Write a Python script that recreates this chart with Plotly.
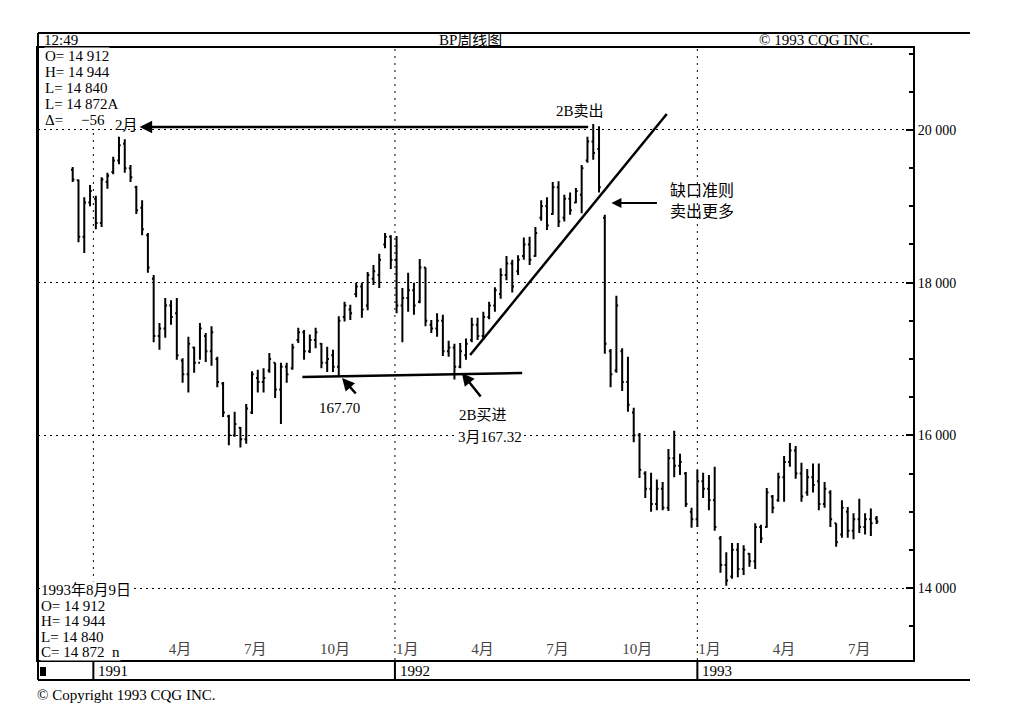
import plotly.graph_objects as go
import pandas as pd

# ---------------- data (weekly BP bars) ----------------
first_week = "1990-12-07"
high = [19515, 19350, 19120, 19280, 19140, 19380, 19440, 19650, 19910, 19880,
        19540, 19270, 19080, 18650, 18100, 17470, 17800, 17770, 17800, 17010,
        17290, 17160, 17470, 17340, 17430, 17030, 16700, 16270, 16310, 16110,
        16410, 16840, 16860, 16880, 17080, 16950, 16950, 16950, 17200, 17410,
        17380, 17320, 17410, 17210, 17160, 17120, 17560, 17750, 17710, 18000,
        18000, 18140, 18230, 18380, 18650, 18620, 18610, 17930, 18130, 18000,
        18310, 18200, 17510, 17600, 17580, 17240, 17200, 17210, 17270, 17540,
        17540, 17620, 17750, 17940, 18190, 18350, 18300, 18360, 18590, 18600,
        18730, 19080, 19120, 19320, 19330, 19150, 19180, 19240, 19540, 19910,
        20080, 20050, 18890, 17130, 17830, 17140, 17030, 16360, 16030, 15530,
        15510, 15420, 15390, 15820, 16060, 15760, 15520, 15050, 15550, 15510,
        15480, 15590, 14680, 14470, 14590, 14590, 14560, 14460, 14850, 14830,
        15310, 15220, 15510, 15730, 15900, 15860, 15640, 15560, 15630, 15630,
        15390, 15280, 14850, 15150, 15060, 14980, 15170, 14980, 15040, 14944]
low = [19320, 18530, 18390, 19000, 18700, 18730, 19230, 19420, 19550, 19440,
       19320, 18900, 18620, 18130, 17220, 17120, 17280, 17450, 16990, 16690,
       16560, 16820, 16990, 16960, 16910, 16630, 16240, 15870, 15980, 15840,
       15890, 16280, 16560, 16560, 16820, 16490, 16150, 16690, 16860, 17210,
       16990, 17080, 17140, 16880, 16830, 16830, 16770, 17490, 17510, 17810,
       17540, 17640, 17970, 17930, 18450, 18180, 17600, 17220, 17620, 17580,
       17730, 17430, 17340, 17290, 17040, 17030, 16732, 16880, 16990, 17220,
       17250, 17250, 17520, 17620, 17790, 18030, 17870, 18100, 18300, 18230,
       18340, 18810, 18690, 18890, 18730, 18800, 18890, 19040, 18910, 19570,
       19610, 19180, 17070, 16630, 16820, 16580, 16310, 15910, 15440, 15180,
       15000, 15020, 15020, 15010, 15450, 15480, 15060, 14790, 14800, 15180,
       15020, 14750, 14200, 14030, 14120, 14140, 14170, 14280, 14250, 14590,
       14790, 14980, 15130, 15130, 15590, 15430, 15130, 15210, 15250, 15020,
       15050, 14800, 14540, 14660, 14660, 14640, 14720, 14700, 14680, 14840]
open_ = [19480, 19340, 18600, 19050, 19100, 18780, 19320, 19450, 19600, 19820,
         19500, 19250, 18980, 18620, 18050, 17300, 17400, 17700, 17600, 16980,
         16800, 17150, 16950, 17300, 17100, 17000, 16680, 16250, 16000, 16100,
         15950, 16300, 16750, 16700, 16850, 16950, 16600, 16900, 16880, 17250,
         17350, 17100, 17250, 17200, 16950, 17050, 16900, 17550, 17650, 17850,
         17950, 17700, 18050, 18100, 18500, 18600, 18300, 17700, 17800, 17900,
         17750, 18200, 17450, 17400, 17500, 17100, 17150, 16900, 17050, 17250,
         17450, 17300, 17550, 17700, 17850, 18100, 18250, 18150, 18350, 18500,
         18350, 18850, 19000, 18900, 19250, 18850, 19100, 19050, 19150, 19600,
         19850, 19750, 18850, 17100, 16850, 17100, 16700, 16300, 16000, 15500,
         15300, 15100, 15300, 15050, 15700, 15600, 15500, 15000, 14900, 15400,
         15300, 15150, 14650, 14300, 14150, 14500, 14250, 14450, 14350, 14800,
         14800, 15200, 15150, 15450, 15650, 15800, 15500, 15250, 15450, 15400,
         15100, 15250, 14850, 14700, 15000, 14750, 14900, 14800, 14900, 14912]
close = [19350, 18600, 19050, 19200, 18780, 19350, 19400, 19600, 19800, 19500,
         19380, 18950, 18700, 18200, 17300, 17400, 17700, 17550, 17050, 16800,
         17200, 16950, 17400, 17100, 17350, 16700, 16300, 16000, 16150, 15950,
         16350, 16800, 16700, 16750, 17000, 16600, 16900, 16800, 17150, 17350,
         17100, 17250, 17350, 16950, 17000, 16900, 17500, 17700, 17600, 17950,
         17650, 18100, 18150, 18300, 18600, 18300, 17700, 17800, 17900, 17700,
         18200, 17500, 17400, 17500, 17100, 17150, 16900, 17100, 17200, 17450,
         17300, 17550, 17700, 17900, 18100, 18250, 17950, 18300, 18500, 18300,
         18650, 19000, 18750, 19250, 18800, 19100, 18950, 19200, 19500, 19850,
         19700, 19250, 17200, 16800, 17700, 16700, 16400, 16000, 15550, 15300,
         15100, 15300, 15050, 15700, 15600, 15650, 15100, 14900, 15400, 15300,
         15150, 14800, 14300, 14100, 14500, 14250, 14500, 14350, 14800, 14650,
         15250, 15050, 15450, 15650, 15800, 15500, 15200, 15450, 15350, 15100,
         15300, 14900, 14600, 15050, 14750, 14900, 14800, 14900, 14850, 14872]
dates = pd.date_range(first_week, periods=len(high), freq="7D")

month_ticks = ["1991-04-01", "1991-07-01", "1991-10-01", "1992-01-01", "1992-04-01",
               "1992-07-01", "1992-10-01", "1993-01-01", "1993-04-01", "1993-07-01"]
month_labels = ["4月", "7月", "10月", "1月", "4月", "7月", "10月", "1月", "4月", "7月"]
years = ["1991", "1992", "1993"]
year_starts = ["1991-01-01", "1992-01-01", "1993-01-01"]
price_ticks = [14000, 16000, 18000, 20000]
price_labels = ["14 000", "16 000", "18 000", "20 000"]

# ---------------- layout helpers (plot area in page px) ----------------
OFF = 8  # default body margin of the html page
PL, PR, PT, PB = 38, 913, 48, 660
W, H = 1016, 712


def xp(px):
    return (px - PL) / (PR - PL)


def yp(py):
    return (PB - py) / (PB - PT)


FONT = "Liberation Serif, Noto Sans CJK SC, serif"
FS = 15

fig = go.Figure()
fig.add_trace(go.Ohlc(
    x=dates, open=open_, high=high, low=low, close=close,
    increasing=dict(line=dict(color="black", width=2)),
    decreasing=dict(line=dict(color="black", width=2)),
    tickwidth=0.3, hoverinfo="skip",
))

fig.update_layout(
    width=W, height=H,
    margin=dict(l=PL - OFF, r=W - (PR - OFF), t=PT - OFF, b=H - (PB - OFF)),
    paper_bgcolor="white", plot_bgcolor="white", showlegend=False,
    font=dict(family=FONT, size=FS, color="black"),
)
fig.update_xaxes(
    type="date", range=["1990-10-26", "1993-09-19"],
    tickvals=month_ticks, ticktext=month_labels, ticks="",
    ticklabelposition="inside right", tickfont=dict(size=FS, family=FONT),
    showgrid=False, showline=True, linecolor="black", linewidth=2, mirror=True,
    rangeslider_visible=False, zeroline=False,
)
fig.update_yaxes(
    range=[13057, 21074], side="right",
    tickvals=price_ticks, ticktext=price_labels,
    ticks="inside", ticklen=7, tickwidth=2, tickcolor="black",
    minor=dict(tick0=14000, dtick=500, ticks="inside", ticklen=4, tickcolor="black", showgrid=False),
    showgrid=True, gridcolor="black", griddash="2px,4px", gridwidth=1,
    showline=True, linecolor="black", linewidth=2, mirror=True, zeroline=False,
    tickfont=dict(size=14, family=FONT),
)

shapes = []
# outer frame
shapes.append(dict(type="line", xref="paper", yref="paper", x0=0, x1=xp(970), y0=yp(33), y1=yp(33),
                   line=dict(color="black", width=2)))
shapes.append(dict(type="line", xref="paper", yref="paper", x0=0, x1=xp(970), y0=yp(680), y1=yp(680),
                   line=dict(color="black", width=2)))
shapes.append(dict(type="line", xref="paper", yref="paper", x0=0, x1=0, y0=yp(680), y1=yp(33),
                   line=dict(color="black", width=2)))
shapes.append(dict(type="rect", xref="paper", yref="paper", x0=xp(40), x1=xp(46), y0=yp(676), y1=yp(667),
                   fillcolor="black", line=dict(width=0)))
for ys in year_starts:
    shapes.append(dict(type="line", xref="x", yref="paper", x0=ys, x1=ys, y0=yp(680), y1=0,
                       line=dict(color="black", width=2)))
    shapes.append(dict(type="line", xref="x", yref="paper", x0=ys, x1=ys, y0=0, y1=1,
                       line=dict(color="black", width=1, dash="2px,5px")))
# trend line and support line
shapes.append(dict(type="line", xref="x", yref="y", x0="1992-04-01", y0=17052, x1="1992-11-25", y1=20210,
                   line=dict(color="black", width=2.5)))
shapes.append(dict(type="line", xref="x", yref="y", x0="1991-09-11", y0=16765, x1="1992-06-03", y1=16815,
                   line=dict(color="black", width=2.5)))
fig.update_layout(shapes=shapes)

ann = []


def text(x, y, s, xref="paper", yref="paper", xanchor="left", size=FS, bg=None):
    d = dict(x=x, y=y, xref=xref, yref=yref, text=s, showarrow=False, xanchor=xanchor,
             yanchor="middle", font=dict(size=size, family=FONT, color="black"))
    if bg:
        d["bgcolor"] = bg
        d["borderpad"] = 0
    ann.append(d)


# header row
text(xp(42), yp(40), "12:49")
text(xp(470), yp(40), "BP周线图", xanchor="center")
text(xp(757), yp(40), "© 1993 CQG INC.")
# top-left readout
for yy, s in zip([56, 72, 88, 104, 120], ["O= 14 912", "H= 14 944", "L= 14 840", "L= 14 872A", "Δ="]):
    text(xp(44), yp(yy), s, bg="white")
text(xp(106), yp(120), "−56", xanchor="right", bg="white")
# bottom-left readout
text(xp(40), yp(590), "1993年8月9日", bg="white")
for yy, s in zip([606, 621, 637, 652], ["O= 14 912", "H= 14 944", "L= 14 840", "C= 14 872  n"]):
    text(xp(40), yp(yy), s, bg="white")
# year labels
for ys, yr in zip(year_starts, years):
    ann.append(dict(x=ys, y=yp(671), xref="x", yref="paper", text=yr, showarrow=False,
                    xanchor="left", yanchor="middle", xshift=3,
                    font=dict(size=FS, family=FONT, color="black")))
text(xp(35), yp(695), "© Copyright 1993 CQG INC.")

# chart annotations
text("1991-02-10", 20060, "2月", xref="x", yref="y", xanchor="center")
ann.append(dict(x="1991-02-26", y=20040, xref="x", yref="y", ax=450, ay=0, text="",
                showarrow=True, arrowhead=2, arrowsize=1, arrowwidth=2.5, arrowcolor="black"))
text("1992-08-12", 20249, "2B卖出", xref="x", yref="y", xanchor="center")
ann.append(dict(x="1991-10-29", y=16751, xref="x", yref="y", ax=15, ay=17, text="",
                showarrow=True, arrowhead=2, arrowsize=1, arrowwidth=2.5, arrowcolor="black"))
text("1991-10-26", 16358, "167.70", xref="x", yref="y", xanchor="center")
ann.append(dict(x="1992-03-22", y=16817, xref="x", yref="y", ax=20, ay=25, text="",
                showarrow=True, arrowhead=2, arrowsize=1, arrowwidth=2.5, arrowcolor="black"))
text("1992-04-17", 16267, "2B买进", xref="x", yref="y", xanchor="center")
text("1992-04-25", 15978, "3月167.32", xref="x", yref="y", xanchor="center", bg="white")
ann.append(dict(x="1992-09-19", y=19044, xref="x", yref="y", ax=47, ay=0, text="",
                showarrow=True, arrowhead=2, arrowsize=1, arrowwidth=2, arrowcolor="black"))
ann.append(dict(x="1992-11-26", y=19070, xref="x", yref="y", text="缺口准则<br>卖出更多",
                showarrow=False, xanchor="left", yanchor="middle", align="left",
                font=dict(size=16, family=FONT, color="black")))
fig.update_layout(annotations=ann)

fig.write_html("out.html")
